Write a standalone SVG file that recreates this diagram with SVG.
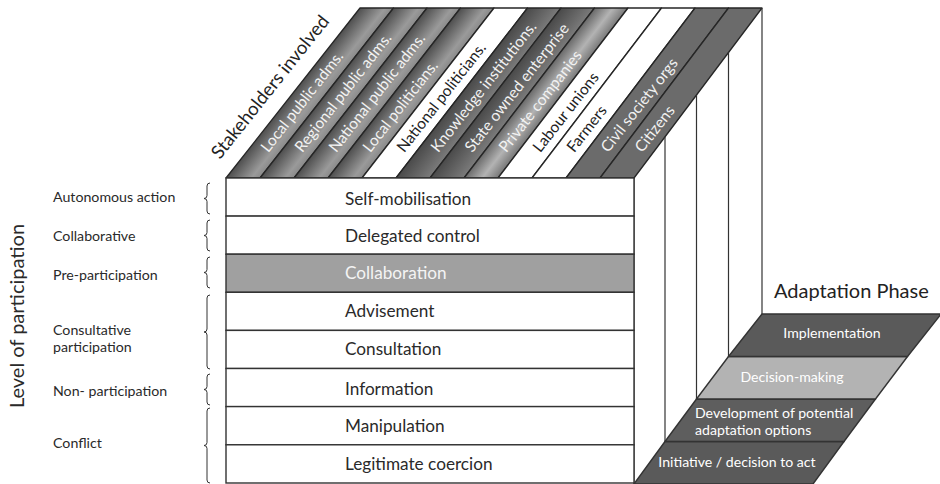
<svg xmlns="http://www.w3.org/2000/svg" width="940" height="484" viewBox="0 0 940 484">
<defs>
<style>
text{font-family:Lato,"Liberation Sans",sans-serif;}
.strip{stroke:#262626;stroke-width:1.3;stroke-linejoin:round;}
.row{fill:#fff;stroke:#333;stroke-width:1.4;}
.rowt{font-size:17.2px;fill:#2a2a2a;}
.lvl{font-size:14.2px;fill:#2a2a2a;}
.sl{font-size:15.5px;fill:#f2f2f2;}
.sd{font-size:15.5px;fill:#222;}
.ph{stroke:#333;stroke-width:1.4;stroke-linejoin:round;}
.pht{font-size:14.1px;fill:#fff;}
.vl{stroke:#333;stroke-width:1.2;fill:none;}
.br{stroke:#333;stroke-width:1;fill:none;}
</style>
<linearGradient id="gA" x1="0" y1="1" x2="0.1234" y2="1.0985">
<stop offset="0" stop-color="#4e4e4e"/><stop offset="0.75" stop-color="#9a9a9a"/><stop offset="1" stop-color="#8a8a8a"/>
</linearGradient>
<linearGradient id="gB" x1="0" y1="1" x2="0.1234" y2="1.0985">
<stop offset="0" stop-color="#4a4a4a"/><stop offset="1" stop-color="#7a7a7a"/>
</linearGradient>
<linearGradient id="gC" x1="0" y1="1" x2="0.1234" y2="1.0985">
<stop offset="0" stop-color="#6a6a6a"/><stop offset="0.55" stop-color="#b3b3b3"/><stop offset="1" stop-color="#7a7a7a"/>
</linearGradient>
</defs>
<rect width="940" height="484" fill="#fff"/>

<g id="top-face">
<polygon class="strip" fill="url(#gA)" points="226,178 260,178 393.5,8 360,8"/>
<polygon class="strip" fill="url(#gA)" points="260,178 294,178 427,8 393.5,8"/>
<polygon class="strip" fill="url(#gA)" points="294,178 328,178 460.5,8 427,8"/>
<polygon class="strip" fill="url(#gA)" points="328,178 362,178 494,8 460.5,8"/>
<polygon class="strip" fill="#fff" points="362,178 396,178 527.5,8 494,8"/>
<polygon class="strip" fill="url(#gB)" points="396,178 430,178 561,8 527.5,8"/>
<polygon class="strip" fill="url(#gB)" points="430,178 464,178 594.5,8 561,8"/>
<polygon class="strip" fill="url(#gC)" points="464,178 498,178 628,8 594.5,8"/>
<polygon class="strip" fill="#fff" points="498,178 532,178 661.5,8 628,8"/>
<polygon class="strip" fill="#fff" points="532,178 566,178 695,8 661.5,8"/>
<polygon class="strip" fill="#6b6b6b" points="566,178 600,178 728.5,8 695,8"/>
<polygon class="strip" fill="#6b6b6b" points="600,178 634,178 762,8 728.5,8"/>
</g>

<g id="stakeholder-labels">
<text transform="translate(220,160) rotate(-51.5)" style="font-size:18.5px;fill:#222">Stakeholders involved</text>
<text class="sl" transform="translate(264,150) rotate(-52)" dy="0.35em">Local public adms.</text>
<text class="sl" transform="translate(298,150) rotate(-52)" dy="0.35em">Regional public adms.</text>
<text class="sl" transform="translate(332,150) rotate(-52)" dy="0.35em">National public adms.</text>
<text class="sl" transform="translate(366,150) rotate(-52)" dy="0.35em">Local politicians.</text>
<text class="sd" transform="translate(400,150) rotate(-52)" dy="0.35em">National politicians.</text>
<text class="sl" transform="translate(434,150) rotate(-52)" dy="0.35em">Knowledge institutions.</text>
<text class="sl" transform="translate(468,150) rotate(-52)" dy="0.35em">State owned enterprise</text>
<text class="sl" transform="translate(502,150) rotate(-52)" dy="0.35em">Private companies</text>
<text class="sd" transform="translate(536,150) rotate(-52)" dy="0.35em">Labour unions</text>
<text class="sd" transform="translate(570,150) rotate(-52)" dy="0.35em">Farmers</text>
<text class="sl" transform="translate(604,150) rotate(-52)" dy="0.35em">Civil society orgs</text>
<text class="sl" transform="translate(638,150) rotate(-52)" dy="0.35em">Citizens</text>
</g>

<g id="side-face">
<line class="vl" x1="634" y1="178" x2="634" y2="484"/>
<line class="vl" x1="665" y1="136.8" x2="665" y2="441.5"/>
<line class="vl" x1="696.5" y1="95" x2="696.5" y2="399"/>
<line class="vl" x1="728.5" y1="52.5" x2="728.5" y2="356.5"/>
<line class="vl" x1="762" y1="8" x2="762" y2="314"/>
</g>

<g id="front-face">
<g id="row-self-mobilisation"><rect class="row" x="226" y="178" width="408" height="38.1"/><text class="rowt" x="345" y="205">Self-mobilisation</text></g>
<g id="row-delegated-control"><rect class="row" x="226" y="216.1" width="408" height="38.1"/><text class="rowt" x="345" y="242">Delegated control</text></g>
<g id="row-collaboration"><rect class="row" x="226" y="254.2" width="408" height="38.1" style="fill:#a0a0a0"/><text class="rowt" x="345" y="279" style="fill:#f4f4f4">Collaboration</text></g>
<g id="row-advisement"><rect class="row" x="226" y="292.3" width="408" height="38.1"/><text class="rowt" x="345" y="317">Advisement</text></g>
<g id="row-consultation"><rect class="row" x="226" y="330.4" width="408" height="38.1"/><text class="rowt" x="345" y="355">Consultation</text></g>
<g id="row-information"><rect class="row" x="226" y="368.5" width="408" height="38.1"/><text class="rowt" x="345" y="395">Information</text></g>
<g id="row-manipulation"><rect class="row" x="226" y="406.6" width="408" height="38.2"/><text class="rowt" x="345" y="432">Manipulation</text></g>
<g id="row-legitimate-coercion"><rect class="row" x="226" y="444.8" width="408" height="38.2"/><text class="rowt" x="345" y="470">Legitimate coercion</text></g>
</g>

<g id="level-labels">
<text transform="translate(24,316) rotate(-90)" text-anchor="middle" style="font-size:20px;fill:#2a2a2a">Level of participation</text>
<text class="lvl" x="53" y="202">Autonomous action</text>
<text class="lvl" x="53" y="241">Collaborative</text>
<text class="lvl" x="53" y="280">Pre-participation</text>
<text class="lvl" x="53" y="335">Consultative</text>
<text class="lvl" x="53" y="352">participation</text>
<text class="lvl" x="53" y="396">Non- participation</text>
<text class="lvl" x="53" y="448">Conflict</text>
</g>

<g id="braces">
<path class="br" d="M210,183 Q207,183 207,186 L207,195.5 Q207,198.5 204,198.5 Q207,198.5 207,201.5 L207,211 Q207,214 210,214"/>
<path class="br" d="M210,220 Q207,220 207,223 L207,232.5 Q207,235.5 204,235.5 Q207,235.5 207,238.5 L207,248 Q207,251 210,251"/>
<path class="br" d="M210,257 Q207,257 207,260 L207,269.5 Q207,272.5 204,272.5 Q207,272.5 207,275.5 L207,285 Q207,288 210,288"/>
<path class="br" d="M210,295 Q207,295 207,298 L207,329 Q207,332 204,332 Q207,332 207,335 L207,366 Q207,369 210,369"/>
<path class="br" d="M210,374 Q207,374 207,377 L207,386.5 Q207,389.5 204,389.5 Q207,389.5 207,392.5 L207,402 Q207,405 210,405"/>
<path class="br" d="M210,408 Q207,408 207,411 L207,442.5 Q207,445.5 204,445.5 Q207,445.5 207,448.5 L207,480 Q207,483 210,483"/>
</g>

<g id="adaptation-phase">
<text x="774" y="298" style="font-size:20px;fill:#222">Adaptation Phase</text>
<g id="phase-initiative"><polygon class="ph" fill="#5a5a5a" points="634,484 813,484 844,441.5 665,441.5"/><text class="pht" x="737" y="467" text-anchor="middle">Initiative / decision to act</text></g>
<g id="phase-development"><polygon class="ph" fill="#5e5e5e" points="665,441.5 844,441.5 875.5,399 696.5,399"/><text class="pht" x="695" y="418">Development of potential</text><text class="pht" x="695" y="435">adaptation options</text></g>
<g id="phase-decision"><polygon class="ph" fill="#b3b3b3" points="696.5,399 875.5,399 907.5,356.5 728.5,356.5"/><text class="pht" x="792" y="382" text-anchor="middle">Decision-making</text></g>
<g id="phase-implementation"><polygon class="ph" fill="#5a5a5a" points="728.5,356.5 907.5,356.5 941,314 762,314"/><text class="pht" x="832" y="338" text-anchor="middle">Implementation</text></g>
</g>
</svg>
